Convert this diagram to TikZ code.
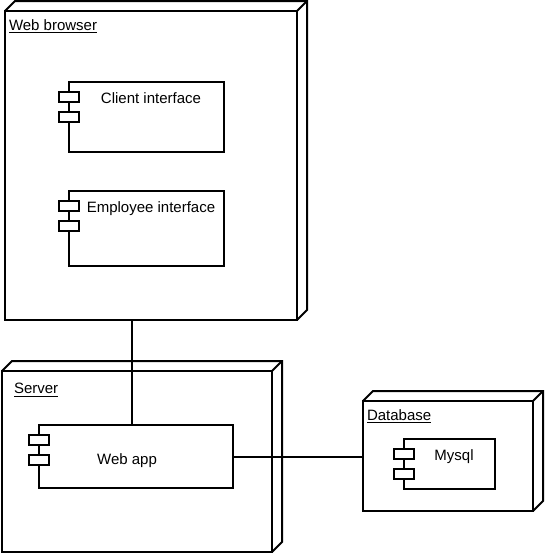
\documentclass[tikz,border=0pt]{standalone}
\usepackage{fontspec}
\setmainfont{Liberation Sans}
\usepackage{tikz}
\usetikzlibrary{calc,positioning}

\begin{document}
\begin{tikzpicture}[
  x=0.75pt, y=-0.75pt,
  line width=1.5pt,
  size/.style 2 args={minimum width=#1*0.75pt, minimum height=#2*0.75pt},
  devbox/.style={draw, inner sep=0pt, outer sep=0pt},
  comp/.style={draw, inner sep=0pt, outer sep=0pt},
  port/.style={draw, fill=white, inner sep=0pt, outer sep=0pt, minimum width=15pt, minimum height=7.5pt},
  txt/.style={inner sep=0pt, font=\fontsize{11.25pt}{13pt}\selectfont},
  wire/.style={line width=1.5pt}
]
\useasboundingbox (0,0) rectangle (544,553);
% devices
\node[devbox, size={292}{309}] (browser) at (151,165.5) {};
\node[devbox, size={270}{181}] (server) at (137,461.5) {};
\node[devbox, size={170}{110}] (database) at (448,456) {};
\foreach \dev in {browser,server,database} {
  \draw (\dev.north west) -- ++(10,-10) -- ($(\dev.north east)+(10,-10)$) -- ($(\dev.south east)+(10,-10)$) -- (\dev.south east);
  \draw (\dev.north east) -- ++(10,-10);
}
% components
\node[comp, size={155}{70}] (client) at (146.5,117) {};
\node[comp, size={155}{75}] (employee) at (146.5,228.5) {};
\node[comp, size={194}{63}] (webapp) at (136,456.5) {};
\node[comp, size={91}{50}] (mysql) at (449.5,464) {};
\foreach \comp in {client,employee,webapp,mysql} {
  \node[port] (\comp-a) at ($(\comp.north west)+(0,15)$) {};
  \node[port] (\comp-b) at ($(\comp.north west)+(0,35)$) {};
}
% labels
\node[txt, anchor=west] (browsertxt) at (8,26) {\underline{Web browser}};
\node[txt, anchor=west] (servertxt) at (13,390) {\underline{Server}};
\node[txt, anchor=west] (databasetxt) at (366,416) {\underline{Database}};
\node[txt] (clienttxt) at (151,98) {Client interface};
\node[txt] (employeetxt) at (151,209) {Employee interface};
\node[txt] (webapptxt) at (127,461) {Web app};
\node[txt] (mysqltxt) at (454,457) {Mysql};
% links
\coordinate (dock) at ($(webapp.north)+(-4,0)$);
\draw[wire] (browser.south -| dock) -- (dock);
\draw[wire] (webapp.east) -- (webapp.east -| database.west);
\end{tikzpicture}
\end{document}
